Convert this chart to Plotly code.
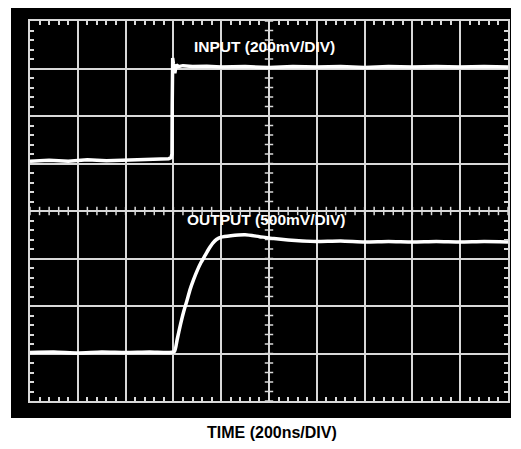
import numpy as np
import plotly.graph_objects as go

# time in divisions (200 ns/div), amplitude in divisions
in_t = [0.0, 0.4, 0.8, 1.2, 1.6, 2.0, 2.4, 2.7, 2.9, 2.95, 2.97, 2.975, 2.985, 3.0, 3.03, 3.06, 3.1, 3.2, 3.4, 3.7, 4.0, 4.5, 5.0, 5.5, 6.0, 6.5, 7.0, 7.5, 8.0, 8.5, 9.0, 9.5, 10.0]
in_v = [5.05, 5.07, 5.05, 5.08, 5.06, 5.07, 5.08, 5.09, 5.1, 5.12, 5.2, 6.2, 7.22, 7.1, 6.9, 7.08, 7.04, 7.06, 7.04, 7.05, 7.03, 7.04, 7.02, 7.04, 7.03, 7.04, 7.02, 7.04, 7.03, 7.04, 7.03, 7.04, 7.03]

out_t = [0.0, 0.5, 1.0, 1.5, 2.0, 2.5, 2.9, 3.02, 3.08, 3.15, 3.22, 3.28, 3.35, 3.42, 3.5, 3.58, 3.66, 3.74, 3.82, 3.9, 4.0, 4.2, 4.5, 4.8, 5.1, 5.4, 5.7, 6.0, 6.5, 7.0, 7.5, 8.0, 8.5, 9.0, 9.5, 10.0]
out_v = [1.02, 1.03, 1.01, 1.03, 1.02, 1.03, 1.02, 1.04, 1.3, 1.62, 1.9, 2.1, 2.35, 2.55, 2.75, 2.92, 3.06, 3.2, 3.32, 3.4, 3.45, 3.48, 3.5, 3.46, 3.42, 3.39, 3.37, 3.36, 3.37, 3.35, 3.36, 3.35, 3.36, 3.35, 3.36, 3.35]

grid_col = "#d9d9d9"
font_family = "Liberation Sans, Arial, sans-serif"

fig = go.Figure()

# center graticule ticks
cx = np.arange(0, 10.001, 0.2)
cy = np.arange(0, 8.001, 0.2)
fig.add_trace(go.Scatter(x=cx, y=[4] * len(cx), mode="markers", hoverinfo="skip",
                         marker=dict(symbol="line-ns", size=6, line=dict(color=grid_col, width=1.5))))
fig.add_trace(go.Scatter(x=[5] * len(cy), y=cy, mode="markers", hoverinfo="skip",
                         marker=dict(symbol="line-ew", size=6, line=dict(color=grid_col, width=1.5))))

fig.add_trace(go.Scatter(x=in_t, y=in_v, mode="lines", line=dict(color="white", width=3.5)))
fig.add_trace(go.Scatter(x=out_t, y=out_v, mode="lines", line=dict(color="white", width=3.5, shape="spline", smoothing=0.6)))

axis_common = dict(
    showgrid=True, gridcolor=grid_col, gridwidth=1.5,
    showline=True, linecolor=grid_col, linewidth=2, mirror="ticks",
    ticks="", showticklabels=False, zeroline=False,
    minor=dict(dtick=0.2, ticks="inside", ticklen=4, tickcolor=grid_col, tickwidth=1.5, showgrid=False),
    fixedrange=True,
)
fig.update_xaxes(range=[0, 10], dtick=1, tick0=0, **axis_common)
fig.update_yaxes(range=[0, 8], dtick=1, tick0=0, **axis_common)

# black scope frame
fig.add_shape(type="rect", xref="paper", yref="paper",
              x0=(11 - 30) / 478, x1=(511 - 30) / 478,
              y0=(401 - 418) / 382, y1=(401 - 3) / 382,
              fillcolor="black", line=dict(width=0), layer="below")

fig.add_annotation(x=4.91, y=7.46, xref="x", yref="y", text="<b>INPUT (200mV/DIV)</b>", showarrow=False,
                   xanchor="center", yanchor="middle",
                   font=dict(family=font_family, size=15.5, color="white"))
fig.add_annotation(x=4.94, y=3.83, xref="x", yref="y", text="<b>OUTPUT (500mV/DIV)</b>", showarrow=False,
                   xanchor="center", yanchor="middle",
                   font=dict(family=font_family, size=15.5, color="white"))
fig.add_annotation(x=0.506, y=-0.0838, xref="paper", yref="paper", text="<b>TIME (200ns/DIV)</b>", showarrow=False,
                   xanchor="center", yanchor="middle",
                   font=dict(family=font_family, size=16, color="black"))

# page body has an 8px margin; shrink figure and margins accordingly
fig.update_layout(
    width=513, height=441,
    margin=dict(l=22, r=13, t=11, b=48),
    paper_bgcolor="white", plot_bgcolor="black",
    showlegend=False,
)

fig.write_html("out.html")
